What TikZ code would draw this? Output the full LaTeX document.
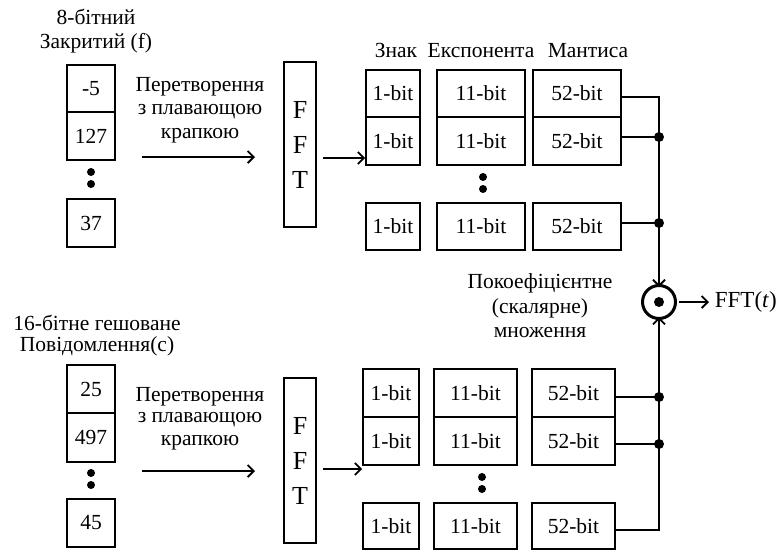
\documentclass[tikz,border=0pt]{standalone}
\usepackage{fontspec}
\setmainfont{Liberation Serif}
\usetikzlibrary{arrows.meta}
\begin{document}
\begin{tikzpicture}[x=1pt,y=-1pt,line width=1.8pt,
  lbl/.style={inner sep=0pt,font=\fontsize{21.5}{24}\selectfont},
  cell/.style={draw,rectangle,inner sep=0pt,font=\fontsize{21.5}{24}\selectfont},
  fftbox/.style={draw,rectangle,inner sep=0pt,align=center,minimum width=32pt,
    minimum height=165pt,font=\fontsize{26}{35}\selectfont},
  arr/.style={-{Straight Barb[length=6pt,width=12pt]}},
  junc/.style={fill,circle,inner sep=0pt,minimum size=10pt},
  vdot/.style={fill,circle,inner sep=0pt,minimum size=8pt}]
\useasboundingbox (0,0) rectangle (782,550);
% cell with corners (x1,y1)-(x2,y2)
\newcommand{\cellbox}[6]{%
  \node[cell,minimum width={(#4-#2)*1pt},minimum height={(#5-#3)*1pt}]
    (#1) at ({(#2+#4)/2},{(#3+#5)/2}) {#6};}

% ---------- upper branch: key f ----------
\node[lbl] (tf1) at (96,17) {8-бітний};
\node[lbl] (tf2) at (96,43) {Закритий (f)};
\cellbox{fa}{67}{65}{115}{112}{-5}
\cellbox{fb}{67}{112}{115}{160}{127}
\node[vdot] (fd1) at (91,172) {};
\node[vdot] (fd2) at (91,184) {};
\cellbox{fc}{67}{199}{115}{247}{37}

\node[lbl] (cf1) at (200,87) {Перетворення};
\node[lbl] (cf2) at (200,112) {з плавающою};
\node[lbl] (cf3) at (200,136) {крапкою};
\coordinate (af1) at (142,157);
\coordinate (af2) at (255,157);
\draw[arr] (af1) -- (af2);

\node[fftbox] (fft1) at (300,144.5) {F\\F\\T};

% column headers share one baseline
\node[lbl,anchor=base] (hs) at (396,57) {Знак};
\node[lbl,anchor=base] (he) at (481,57) {Експонента};
\node[lbl,anchor=base] (hm) at (588,57) {Мантиса};

\cellbox{s1}{366}{70}{420}{117}{1-bit}
\cellbox{s2}{366}{117}{420}{165}{1-bit}
\cellbox{s3}{366}{203}{420}{250}{1-bit}
\cellbox{e1}{437}{70}{525}{117}{11-bit}
\cellbox{e2}{437}{117}{525}{165}{11-bit}
\cellbox{e3}{437}{203}{525}{250}{11-bit}
\cellbox{m1}{533}{70}{621}{117}{52-bit}
\cellbox{m2}{533}{117}{621}{165}{52-bit}
\cellbox{m3}{533}{203}{621}{250}{52-bit}
\node[vdot] (ed1) at (483,177) {};
\node[vdot] (ed2) at (483,189) {};

\coordinate (ff1) at (323,158);
\draw[arr] (ff1) -- (ff1 -| s2.west);

% ---------- lower branch: hashed message c ----------
\node[lbl] (tc1) at (97,323) {16-бітне гешоване};
\node[lbl] (tc2) at (97,346) {Повідомлення(с)};
\cellbox{ca}{67}{365}{115}{413}{25}
\cellbox{cb}{67}{413}{115}{462}{497}
\node[vdot] (cd1) at (91,473) {};
\node[vdot] (cd2) at (91,485) {};
\cellbox{cc}{67}{499}{115}{547}{45}

\node[lbl] (cc1) at (200,397) {Перетворення};
\node[lbl] (cc2) at (200,420) {з плавающою};
\node[lbl] (cc3) at (200,443) {крапкою};
\coordinate (ac1) at (142,471);
\coordinate (ac2) at (255,471);
\draw[arr] (ac1) -- (ac2);

\node[fftbox] (fft2) at (300,460.5) {F\\F\\T};

\cellbox{t1}{363}{369}{419}{417}{1-bit}
\cellbox{t2}{363}{417}{419}{465}{1-bit}
\cellbox{t3}{363}{503}{419}{549}{1-bit}
\cellbox{x1}{434}{369}{517}{417}{11-bit}
\cellbox{x2}{434}{417}{517}{465}{11-bit}
\cellbox{x3}{434}{503}{517}{549}{11-bit}
\cellbox{n1}{532}{369}{615}{417}{52-bit}
\cellbox{n2}{532}{417}{615}{465}{52-bit}
\cellbox{n3}{532}{503}{615}{549}{52-bit}
\node[vdot] (xd1) at (482,477) {};
\node[vdot] (xd2) at (482,489) {};

\coordinate (fc1) at (323,469);
\draw[arr] (fc1) -- (fc1 -| t2.west);

% ---------- pointwise product ----------
\node[draw,circle,line width=3pt,minimum size=33pt,inner sep=0pt] (prod) at (659,302) {};
\node[vdot,minimum size=10pt] (pdot) at (prod.center) {};
\node[lbl,anchor=west,font=\fontsize{23}{26}\selectfont] (out) at (714,302) {FFT(\textit{t})};
\draw[arr] (prod.east) ++(2,0) -- (out.west -| 709,0);

\node[lbl,anchor=base] (pw1) at (540,288) {Покоефіцієнтне};
\node[lbl,anchor=base] (pw2) at (540,313) {(скалярне)};
\node[lbl,anchor=base] (pw3) at (540,337) {множення};

% mantissa outputs gathered into the product
\draw[arr] (m1.east |- 0,97) -- (659,97) -- ([yshift=-3pt]prod.north);
\draw (m2.east |- 0,137) -- (659,137);
\draw (m3.east |- 0,223) -- (659,223);
\node[junc] (j1) at (659,137) {};
\node[junc] (j2) at (659,223) {};

\draw[arr] (n3.east |- 0,530) -- (659,530) -- ([yshift=3pt]prod.south);
\draw (n1.east |- 0,397) -- (659,397);
\draw (n2.east |- 0,444) -- (659,444);
\node[junc] (j3) at (659,397) {};
\node[junc] (j4) at (659,444) {};
\end{tikzpicture}
\end{document}
